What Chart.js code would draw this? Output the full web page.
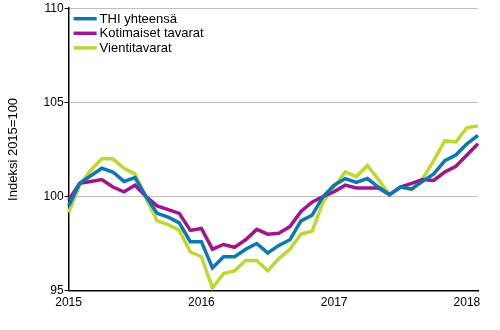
<!DOCTYPE html>
<html>
<head>
<meta charset="utf-8">
<script src="https://cdn.jsdelivr.net/npm/chart.js@4"></script>
<style>
  html, body { margin: 0; padding: 0; background: #fff; }
  #wrap { width: 500px; height: 330px; }
</style>
</head>
<body>
<div id="wrap"><canvas id="chart"></canvas></div>
<script>
// months Jan 2015 .. Feb 2018
const months = [
  '2015-01','2015-02','2015-03','2015-04','2015-05','2015-06','2015-07','2015-08','2015-09','2015-10','2015-11','2015-12',
  '2016-01','2016-02','2016-03','2016-04','2016-05','2016-06','2016-07','2016-08','2016-09','2016-10','2016-11','2016-12',
  '2017-01','2017-02','2017-03','2017-04','2017-05','2017-06','2017-07','2017-08','2017-09','2017-10','2017-11','2017-12',
  '2018-01','2018-02'
];

const thiTotal = [
  99.5, 100.7, 101.1, 101.5, 101.3, 100.8, 101.0, 100.0, 99.1, 98.9, 98.6, 97.6,
  97.6, 96.2, 96.8, 96.8, 97.2, 97.5, 97.0, 97.4, 97.7, 98.7, 99.0, 100.0,
  100.6, 100.95, 100.75, 100.95, 100.5, 100.1, 100.5, 100.4, 100.8, 101.2, 101.9, 102.2,
  102.8, 103.25
];
const domestic = [
  99.8, 100.7, 100.8, 100.9, 100.5, 100.25, 100.6, 100.0, 99.5, 99.3, 99.1, 98.2,
  98.3, 97.2, 97.45, 97.3, 97.7, 98.25, 98.0, 98.05, 98.4, 99.2, 99.7, 100.0,
  100.25, 100.6, 100.45, 100.45, 100.45, 100.1, 100.5, 100.7, 100.9, 100.85, 101.3, 101.6,
  102.2, 102.8
];
const exportGoods = [
  99.15, 100.6, 101.4, 102.0, 102.0, 101.5, 101.2, 99.9, 98.7, 98.5, 98.2, 97.05,
  96.8, 95.15, 95.9, 96.05, 96.6, 96.6, 96.05, 96.7, 97.2, 98.0, 98.15, 99.7,
  100.5, 101.3, 101.05, 101.65, 100.9, 100.1, 100.5, 100.35, 100.95, 101.9, 102.95, 102.9,
  103.65, 103.75
];

const seriesNames = ['THI yhteensä', 'Kotimaiset tavarat', 'Vientitavarat'];
const seriesColors = ['#0b78b4', '#a0158c', '#bfd730'];
const yTicks = [95, 100, 105, 110];

const font = "'Liberation Sans', Arial, sans-serif";

// legend drawn inside the plot, top-left
const insideLegend = {
  id: 'insideLegend',
  afterDraw(chart) {
    const ctx = chart.ctx;
    const a = chart.chartArea;
    ctx.save();
    ctx.font = '13px ' + font;
    ctx.textBaseline = 'middle';
    chart.data.datasets.forEach((ds, i) => {
      const y = a.top + 10.5 + i * 14.6;
      ctx.strokeStyle = ds.borderColor;
      ctx.lineWidth = 3.5;
      ctx.beginPath();
      ctx.moveTo(a.left + 5, y);
      ctx.lineTo(a.left + 28, y);
      ctx.stroke();
      ctx.fillStyle = '#000';
      ctx.fillText(ds.label, a.left + 31, y + 0.5);
    });
    ctx.restore();
  }
};

const datasets = [thiTotal, domestic, exportGoods].map((d, i) => ({
  label: seriesNames[i],
  data: d,
  borderColor: seriesColors[i],
  backgroundColor: seriesColors[i],
  borderWidth: 3.5,
  pointRadius: 0,
  pointHoverRadius: 0,
  tension: 0
}));
// draw order: lime at the back, blue on top
datasets[0].order = 1;
datasets[1].order = 2;
datasets[2].order = 3;

new Chart(document.getElementById('chart').getContext('2d'), {
  type: 'line',
  data: { labels: months, datasets: datasets },
  options: {
    responsive: true,
    maintainAspectRatio: false,
    animation: false,
    layout: { padding: { top: 0, right: 22, left: 6, bottom: 15 } },
    plugins: {
      legend: { display: false },
      tooltip: { enabled: false }
    },
    scales: {
      x: {
        offset: false,
        grid: { display: false, drawTicks: false },
        border: { display: true, color: '#000', width: 1.5 },
        ticks: {
          autoSkip: false,
          maxRotation: 0,
          padding: 5,
          color: '#000',
          font: { family: font, size: 12 },
          callback: function (val, idx) {
            const m = months[idx];
            return m.endsWith('-01') ? m.slice(0, 4) : null;
          }
        }
      },
      y: {
        min: 95,
        max: 110,
        afterBuildTicks: axis => { axis.ticks = yTicks.map(v => ({ value: v })); },
        grid: {
          color: ctx => (ctx.tick && ctx.tick.value === 95) ? 'rgba(0,0,0,0)' : '#c0c0c0',
          tickColor: '#000',
          tickLength: 4,
          lineWidth: 1
        },
        border: { display: true, color: '#000', width: 1.5 },
        ticks: {
          padding: 1,
          color: '#000',
          font: { family: font, size: 12 }
        },
        title: {
          display: true,
          text: 'Indeksi 2015=100',
          color: '#000',
          font: { family: font, size: 13 },
          padding: { top: 0, bottom: 21 }
        }
      }
    }
  },
  plugins: [insideLegend]
});
</script>
</body>
</html>
